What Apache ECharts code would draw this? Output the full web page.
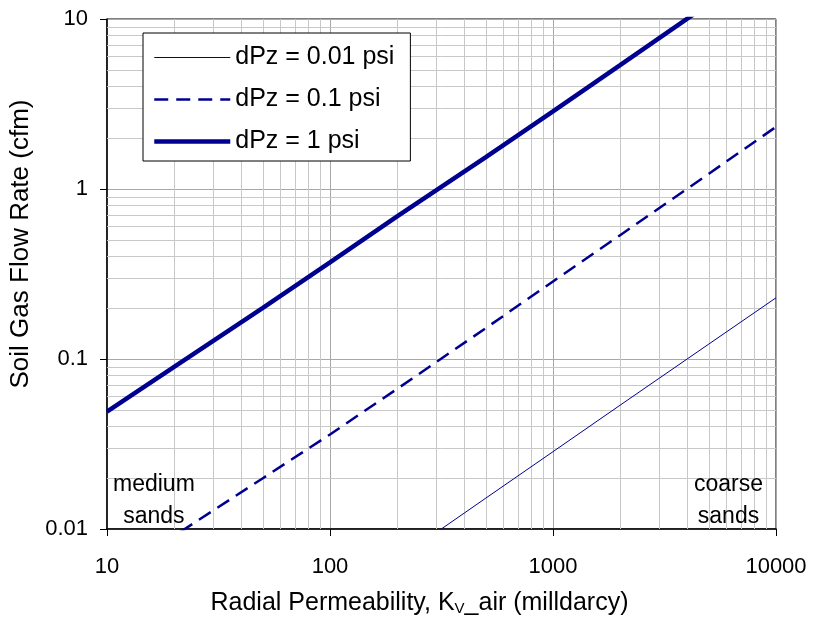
<!DOCTYPE html>
<html>
<head>
<meta charset="utf-8">
<script src="https://cdn.jsdelivr.net/npm/echarts@6/dist/echarts.min.js"></script>
<style>html,body{margin:0;padding:0;background:#fff;}#c{width:815px;height:627px;}</style>
</head>
<body>
<div id="c"></div>
<script>
// Permeability (milldarcy) sample points
const permeability = [10, 20, 50, 100, 200, 500, 1000, 2000, 5000, 10000];
// Flow rate (cfm)
const flow001 = [null, null, null, 0.0029, 0.0066, 0.0152, 0.0285, 0.0535, 0.1225, 0.229];
const flow01  = [0.005, 0.0091, 0.0199, 0.036, 0.0667, 0.152, 0.286, 0.535, 1.23, 2.32];
const flow1   = [0.049, 0.090, 0.20, 0.37, 0.69, 1.54, 2.86, 5.35, 12.3, 23];
const seriesNames = ['dPz = 0.01 psi', 'dPz = 0.1 psi', 'dPz = 1 psi'];
const xTickLabels = ['10', '100', '1000', '10000'];
const yTickLabels = ['0.01', '0.1', '1', '10'];
const minorX = [20,30,40,50,60,70,80,90,200,300,400,500,600,700,800,900,2000,3000,4000,5000,6000,7000,8000,9000];
const minorY = [0.02,0.03,0.04,0.05,0.06,0.07,0.08,0.09,0.2,0.3,0.4,0.5,0.6,0.7,0.8,0.9,2,3,4,5,6,7,8,9];

function pairs(xs, ys){ const out=[]; xs.forEach((x,i)=>{ if(ys[i]!=null) out.push([x, ys[i]]); }); return out; }
function fmt(labels){ return function(v){ const s = String(+v.toPrecision(6)); return labels.indexOf(s) >= 0 ? s : ''; }; }

const navy = '#000090';
const styles = [
  { color: navy, width: 1, type: 'solid' },
  { color: navy, width: 2.5, type: [14, 8] },
  { color: navy, width: 4.5, type: 'solid' }
];
const chart = echarts.init(document.getElementById('c'));
chart.setOption({
  animation: false,
  textStyle: { fontFamily: 'Liberation Sans, Arial, sans-serif' },
  grid: { left: 107, right: 39, top: 19, bottom: 98, show: true, borderColor: '#000', borderWidth: 1, backgroundColor: '#fff' },
  xAxis: {
    type: 'log', logBase: 10, min: 10, max: 10000,
    name: 'Radial Permeability, K{sub|V}_air (milldarcy)',
    nameLocation: 'middle', nameGap: 62,
    nameTextStyle: { fontSize: 25, color: '#000', padding: [0, 44, 0, 0],
      rich: { sub: { fontSize: 15, color: '#000', verticalAlign: 'bottom', padding: [8, 0, 0, 0] } } },
    axisLine: { lineStyle: { color: '#000', width: 1.5 } },
    axisTick: { show: true, inside: false, length: 7, lineStyle: { color: '#000' } },
    axisLabel: { fontSize: 22, color: '#000', margin: 27, formatter: fmt(xTickLabels) },
    splitLine: { show: true, lineStyle: { color: '#a8a8a8', width: 1 } },
    minorTick: { show: false }, minorSplitLine: { show: false }
  },
  yAxis: {
    type: 'log', logBase: 10, min: 0.01, max: 10,
    name: 'Soil Gas Flow Rate (cfm)',
    nameLocation: 'middle', nameGap: 63,
    nameTextStyle: { fontSize: 26, color: '#000', padding: [0, 0, 0, 60] },
    axisLine: { lineStyle: { color: '#000', width: 1.5 } },
    axisTick: { show: true, inside: false, length: 7, lineStyle: { color: '#000' } },
    axisLabel: { fontSize: 22, color: '#000', margin: 19, formatter: fmt(yTickLabels) },
    splitLine: { show: true, lineStyle: { color: '#a8a8a8', width: 1 } }
  },
  legend: {
    orient: 'vertical', left: 143, top: 33, z: 20,
    data: seriesNames.map((n, i) => ({ name: n, lineStyle: styles[i] })),
    backgroundColor: '#fff', borderColor: '#000', borderWidth: 1,
    padding: [12, 16, 7, 9],
    itemWidth: 76, itemHeight: 14, itemGap: 17,
    itemStyle: { opacity: 0 },
    textStyle: { fontSize: 25, color: '#000', lineHeight: 25 }
  },
  graphic: [
    { type: 'text', left: 113, top: 469, z: 50, style: { text: 'medium\nsands', fontSize: 23, lineHeight: 32, textAlign: 'center', fill: '#000', font: '23px Liberation Sans' } },
    { type: 'text', left: 694, top: 469, z: 50, style: { text: 'coarse\nsands', fontSize: 23, lineHeight: 32, textAlign: 'center', fill: '#000', font: '23px Liberation Sans' } }
  ],
  series: [
    { name: 'grid-minor', type: 'line', data: [], silent: true, z: 1,
      markLine: { silent: true, symbol: 'none', animation: false, label: { show: false }, z: 1,
        lineStyle: { color: '#c8c8c8', width: 1, type: 'solid' },
        data: minorX.map(v => ({ xAxis: v })).concat(minorY.map(v => ({ yAxis: v }))) } },
    { name: seriesNames[0], type: 'line', data: pairs(permeability, flow001), showSymbol: false, symbol: 'none', z: 3,
      lineStyle: styles[0], itemStyle: { color: navy } },
    { name: seriesNames[1], type: 'line', data: pairs(permeability, flow01), showSymbol: false, symbol: 'none', z: 3,
      lineStyle: styles[1], itemStyle: { color: navy } },
    { name: seriesNames[2], type: 'line', data: pairs(permeability, flow1), showSymbol: false, symbol: 'none', z: 3,
      lineStyle: styles[2], itemStyle: { color: navy } }
  ]
});
</script>
</body>
</html>
